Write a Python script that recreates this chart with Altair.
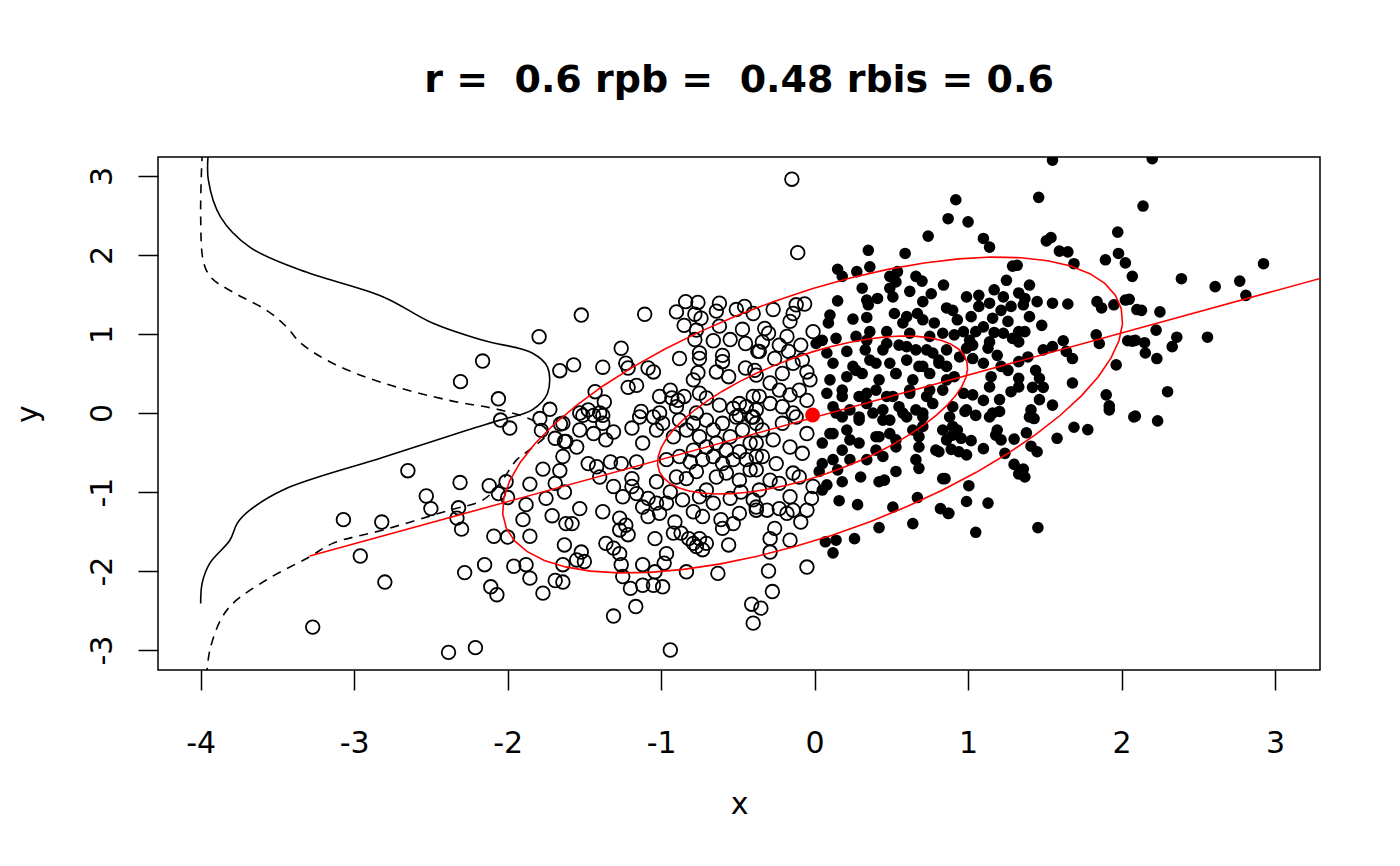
import altair as alt
import pandas as pd
import numpy as np

X_DOMAIN = [-4.278, 3.293]
Y_DOMAIN = [-3.253, 3.241]
X_TICKS = [-4, -3, -2, -1, 0, 1, 2, 3]
Y_TICKS = [-3, -2, -1, 0, 1, 2, 3]
TITLE = "r =\u00a0 0.6 rpb =\u00a0 0.48 rbis = 0.6"

# open circles (x below the cut)
open_pts = [
    (-1.795, 0.966), (-2.163, 0.658), (-1.66, 0.536), (-2.307, 0.397), (-2.06, 0.18),
    (-1.725, 0.047), (-2.046, -0.089), (-1.79, -0.07), (-1.656, -0.139), (-1.986, -0.19),
    (-1.78, -0.22), (-1.69, -0.32), (-1.63, -0.36), (-1.64, -0.55), (-1.77, -0.71),
    (-1.66, -0.73), (-1.69, -0.89), (-1.63, -1.0), (-1.855, -0.90), (-1.75, -1.08),
    (-1.88, -1.16), (-1.71, -1.30), (-1.90, -1.35), (-1.62, -1.40), (-1.855, -1.56),
    (-2.09, -1.56), (-2.00, -1.57), (-1.63, -1.67), (-1.64, -1.92), (-1.96, -1.94),
    (-1.88, -1.92), (-1.855, -2.09), (-1.69, -2.12), (-1.64, -2.14), (-1.77, -2.28),
    (-2.15, -1.92), (-2.28, -2.02), (-2.11, -2.20), (-2.07, -2.30), (-2.01, -0.87),
    (-2.12, -0.92), (-2.06, -1.02), (-2.00, -1.07), (-2.31, -0.88), (-2.65, -0.73),
    (-2.53, -1.05), (-2.50, -1.21), (-2.32, -1.20), (-2.33, -1.33), (-2.30, -1.47),
    (-3.07, -1.35), (-2.82, -1.38), (-2.96, -1.81), (-2.80, -2.14), (-3.27, -2.71),
    (-2.385, -3.03), (-2.21, -2.97),
    (-1.52, 1.24), (-1.107, 1.25), (-0.84, 1.41), (-0.76, 1.40), (-0.90, 1.28),
    (-0.78, 1.25), (-0.74, 1.20), (-0.85, 1.11), (-0.77, 1.05), (-0.62, 1.39),
    (-0.64, 1.29), (-0.51, 1.31), (-0.456, 1.35), (-0.40, 1.26), (-0.62, 1.10),
    (-0.47, 1.06), (-0.78, 0.93), (-0.66, 0.915), (-0.55, 0.93), (-0.45, 0.88),
    (-0.37, 0.78), (-1.26, 0.82), (-1.23, 0.63), (-1.215, 0.57), (-1.38, 0.58),
    (-1.57, 0.61), (-1.085, 0.57), (-1.05, 0.52), (-0.88, 0.69), (-0.75, 0.76),
    (-0.75, 0.69), (-0.60, 0.73), (-0.60, 0.65), (-0.76, 0.51), (-0.64, 0.52),
    (-0.56, 0.46), (-0.45, 0.57), (-0.38, 0.48), (-0.79, 0.42), (-1.215, 0.325),
    (-1.16, 0.35), (-1.43, 0.27), (-1.37, 0.14), (-1.475, 0.04), (-1.53, 0.0),
    (-1.44, -0.03), (-1.38, -0.03), (-1.13, 0.02), (-1.01, 0.21), (-0.94, 0.29),
    (-0.93, 0.19), (-0.89, 0.16), (-0.85, 0.21), (-0.90, 0.08), (-1.01, 0.0),
    (-0.75, 0.25), (-0.705, 0.19), (-0.62, 0.10), (-0.53, 0.06), (-0.49, 0.12),
    (-0.445, 0.08), (-0.40, 0.21), (-0.38, 0.04), (-0.77, 0.0), (-0.49, -0.03),
    (-0.41, -0.05),
    (-1.64, -0.13), (-1.51, -0.03), (-1.40, 0.0), (-1.38, -0.13), (-1.31, -0.24),
    (-1.53, -0.215), (-1.44, -0.26), (-1.62, -0.36), (-1.55, -0.43), (-1.36, -0.34),
    (-1.475, -0.64), (-1.42, -0.68), (-1.33, -0.62), (-1.26, -0.64), (-1.16, -0.62),
    (-1.40, -0.81), (-1.31, -0.93), (-1.19, -0.83), (-1.19, -0.93), (-1.25, -1.06),
    (-1.16, -1.02), (-1.085, -1.08), (-1.03, -1.14), (-1.12, -1.19), (-1.53, -1.21),
    (-1.38, -1.25), (-1.27, -1.33), (-1.23, -1.42), (-1.215, -1.54), (-1.27, -1.48),
    (-1.085, -1.31), (-1.01, -1.27), (-0.965, -1.14), (-0.94, -1.0), (-1.03, -0.87),
    (-1.58, -1.40), (-1.52, -1.76), (-1.50, -1.88), (-1.55, -1.86), (-1.36, -1.65),
    (-1.31, -1.71), (-1.27, -1.78), (-1.26, -1.92), (-1.25, -2.07), (-1.20, -2.22),
    (-1.12, -1.92), (-1.12, -2.18), (-1.05, -2.18), (-0.99, -2.20), (-1.04, -2.01),
    (-0.98, -1.90), (-0.965, -1.78), (-1.04, -1.59), (-0.92, -1.52), (-0.91, -1.38),
    (-0.87, -1.52), (-0.82, -1.59), (-0.79, -1.65), (-0.75, -1.59), (-0.705, -1.65),
    (-0.73, -1.73), (-0.77, -1.69), (-0.56, -1.67), (-0.835, -2.01), (-0.63, -2.03),
    (-1.165, -2.45), (-1.31, -2.57), (-0.94, -3.0), (-0.41, -2.42), (-0.40, -2.66),
    (-0.53, -1.40), (-0.60, -1.46), (-0.61, -1.35), (-0.49, -1.27), (-0.38, -1.23),
    (-0.73, -1.31), (-0.79, -1.25), (-0.86, -1.10), (-0.75, -1.06), (-0.66, -1.14),
    (-0.55, -1.08), (-0.48, -1.0), (-0.40, -1.10), (-0.90, -0.81), (-0.835, -0.83),
    (-0.77, -0.74), (-0.705, -0.975), (-0.64, -0.81), (-0.575, -0.76), (-0.49, -0.85),
    (-0.42, -0.72), (-0.965, -0.59), (-0.88, -0.55), (-0.81, -0.62), (-0.73, -0.59),
    (-0.66, -0.55), (-0.60, -0.64), (-0.53, -0.59), (-0.445, -0.59), (-0.38, -0.55),
    (-1.05, -0.05), (-0.99, -0.13), (-1.03, -0.215), (-1.12, -0.38), (-1.19, -0.19),
    (-1.14, -0.05), (-0.92, -0.30), (-0.88, -0.09), (-0.835, -0.215), (-0.79, -0.13),
    (-0.75, -0.30), (-0.705, -0.09), (-0.66, -0.215), (-0.64, -0.38), (-0.60, -0.13),
    (-0.55, -0.30), (-0.51, -0.05), (-0.47, -0.215), (-0.42, -0.38), (-0.38, -0.13),
    (-0.79, -0.47), (-0.705, -0.43), (-0.575, -0.47), (-0.49, -0.49),
    (-0.148, 2.96), (-0.11, 2.03), (-0.27, 1.31), (-0.12, 1.37), (-0.065, 1.38),
    (-0.14, 1.26), (-0.16, 1.16), (-0.01, 1.03), (-0.325, 1.07), (-0.30, 1.01),
    (-0.18, 0.97), (-0.34, 0.90), (-0.36, 0.78), (-0.23, 0.86), (-0.17, 0.78),
    (-0.09, 0.86), (-0.26, 0.69), (-0.14, 0.63), (-0.08, 0.67), (-0.39, 0.54),
    (-0.21, 0.50), (-0.05, 0.52), (-0.03, 0.42), (-0.29, 0.38), (-0.23, 0.29),
    (-0.16, 0.23), (-0.10, 0.29), (-0.05, 0.16), (-0.36, 0.21), (-0.29, 0.12),
    (-0.21, 0.08), (-0.14, 0.0),
    (-0.40, -0.05), (-0.34, -0.215), (-0.21, -0.13), (-0.12, -0.05), (-0.05, -0.26),
    (-0.38, -0.38), (-0.27, -0.34), (-0.16, -0.43), (-0.08, -0.51), (-0.34, -0.55),
    (-0.25, -0.64), (-0.14, -0.76), (-0.10, -0.81), (-0.38, -0.72), (-0.29, -0.85),
    (-0.23, -0.89), (-0.01, -0.93), (-0.36, -0.975), (-0.16, -1.06), (-0.02, -1.08),
    (-0.38, -1.19), (-0.31, -1.23), (-0.23, -1.21), (-0.14, -1.23), (-0.05, -1.23),
    (-0.18, -1.27), (-0.09, -1.38), (-0.26, -1.46), (-0.29, -1.59), (-0.16, -1.61),
    (-0.29, -1.76), (-0.30, -2.0), (-0.05, -1.95), (-0.275, -2.26), (-0.35, -2.47),
]

# filled dots (x above the cut)
filled_pts = [
    (0.87, 2.46), (0.74, 2.24), (0.35, 2.06), (0.59, 2.02), (0.15, 1.82),
    (0.18, 1.73), (0.275, 1.79), (0.36, 1.85), (0.54, 1.79), (0.49, 1.73),
    (0.53, 1.66), (0.66, 1.73), (0.70, 1.67), (0.84, 1.62), (0.31, 1.58),
    (0.49, 1.58), (0.51, 1.47), (0.62, 1.54), (0.76, 1.51), (0.705, 1.41),
    (0.15, 1.42), (0.34, 1.43), (0.41, 1.45), (0.35, 1.37), (0.10, 1.24),
    (0.09, 1.14), (0.25, 1.19), (0.34, 1.21), (0.52, 1.26), (0.60, 1.22),
    (0.67, 1.26), (0.705, 1.18), (0.86, 1.33), (0.78, 1.14), (0.36, 1.03),
    (0.47, 1.03), (0.575, 1.14), (0.62, 1.01), (0.05, 0.92), (0.14, 0.945),
    (0.27, 0.97), (0.75, 0.97), (0.835, 1.01), (0.01, 0.88),
    (0.08, 0.76), (0.21, 0.78), (0.33, 0.80), (0.445, 0.80), (0.55, 0.86),
    (0.66, 0.80), (0.77, 0.76), (0.86, 0.80), (0.12, 0.63), (0.25, 0.59),
    (0.36, 0.67), (0.49, 0.63), (0.60, 0.67), (0.705, 0.59), (0.81, 0.63),
    (0.10, 0.42), (0.21, 0.46), (0.31, 0.50), (0.42, 0.42), (0.53, 0.50),
    (0.64, 0.42), (0.75, 0.50), (0.86, 0.42), (0.08, 0.25), (0.18, 0.29),
    (0.29, 0.21), (0.40, 0.29), (0.51, 0.21), (0.62, 0.29), (0.73, 0.21),
    (0.835, 0.29), (0.12, 0.08), (0.23, 0.04), (0.34, 0.12), (0.445, 0.04),
    (0.55, 0.08), (0.66, 0.04), (0.77, 0.12),
    (0.34, 0.92), (0.47, 0.88), (0.60, 0.84), (0.73, 0.80), (0.27, 0.54),
    (0.40, 0.63), (0.53, 0.50), (0.68, 0.59), (0.81, 0.67), (0.18, 0.21),
    (0.34, 0.25), (0.47, 0.21), (0.62, 0.25), (0.75, 0.29), (0.14, 0.0),
    (0.29, -0.05), (0.445, -0.09), (0.575, 0.0), (0.705, -0.05), (0.10, -0.26),
    (0.23, -0.34), (0.40, -0.30), (0.53, -0.34), (0.68, -0.30), (0.835, -0.215),
    (0.18, -0.05), (0.29, -0.09), (0.38, 0.0), (0.49, -0.09), (0.60, -0.05),
    (0.705, 0.0), (0.12, -0.26), (0.21, -0.215), (0.29, -0.38), (0.42, -0.30),
    (0.49, -0.26), (0.64, -0.215), (0.705, -0.17), (0.05, -0.38), (0.18, -0.47),
    (0.40, -0.47), (0.53, -0.43), (0.68, -0.43), (0.79, -0.47), (0.86, -0.34),
    (0.05, -0.64), (0.12, -0.59), (0.23, -0.59), (0.34, -0.59), (0.445, -0.55),
    (0.66, -0.59), (0.68, -0.70), (0.03, -0.74), (0.15, -0.72), (0.30, -0.81),
    (0.42, -0.87), (0.455, -0.85), (0.53, -0.74), (0.835, -0.83), (0.08, -0.91),
    (0.18, -0.87), (0.05, -0.975), (0.16, -1.11), (0.28, -1.16), (0.51, -1.19),
    (0.67, -1.07), (0.82, -1.21), (0.87, -1.27), (0.64, -1.40), (0.42, -1.45),
    (0.26, -1.59), (0.07, -1.63), (0.14, -1.61), (0.12, -1.77),
    (1.55, 3.20), (0.92, 2.70), (1.46, 2.73), (1.0, 2.42), (1.10, 2.21),
    (1.14, 2.10), (1.51, 2.18), (1.54, 2.22), (1.975, 2.29), (1.595, 2.05),
    (1.65, 2.04), (1.69, 1.89), (1.895, 1.94), (1.98, 2.02), (2.025, 1.90),
    (2.07, 1.73), (1.29, 1.86), (1.32, 1.87), (1.25, 1.68), (1.40, 1.62),
    (0.99, 1.47), (1.07, 1.49), (1.17, 1.56), (1.23, 1.47), (1.33, 1.52),
    (1.37, 1.45), (1.14, 1.39), (1.45, 1.41), (1.55, 1.39), (1.65, 1.38),
    (1.84, 1.41), (1.87, 1.33), (1.95, 1.37), (2.025, 1.43), (2.10, 1.31),
    (0.90, 1.30), (0.93, 1.18), (1.02, 1.22), (1.07, 1.35), (1.215, 1.30),
    (1.28, 1.35), (1.36, 1.37), (1.40, 1.22), (1.16, 1.20), (1.26, 1.16),
    (1.48, 1.11), (1.10, 1.09), (1.05, 1.03), (1.17, 1.02), (1.23, 1.01),
    (1.33, 1.03), (1.37, 1.03), (0.91, 0.99), (1.01, 0.92), (1.14, 0.90),
    (1.29, 0.945), (1.33, 0.90), (1.835, 0.99), (1.855, 0.88), (2.04, 0.915),
    (2.09, 0.92), (0.99, 0.82), (1.13, 0.82), (1.62, 0.915), (1.55, 0.84),
    (1.49, 0.80), (1.64, 0.78), (1.68, 0.69), (0.945, 0.71), (1.03, 0.69),
    (1.19, 0.73), (1.33, 0.65), (1.39, 0.71), (1.10, 0.63), (1.215, 0.59),
    (1.26, 0.54), (1.965, 0.61), (0.86, 0.59), (0.91, 0.46), (1.15, 0.46),
    (1.33, 0.44), (1.44, 0.54), (1.465, 0.44), (1.68, 0.38), (1.14, 0.33),
    (1.33, 0.33), (1.42, 0.325), (1.49, 0.325), (0.97, 0.25), (1.03, 0.23),
    (1.10, 0.16), (1.28, 0.27), (1.205, 0.17), (1.465, 0.17), (1.90, 0.23),
    (1.55, 0.10), (1.92, 0.09), (0.90, 0.08), (0.99, 0.04), (1.16, 0.0),
    (1.41, 0.04), (0.97, 1.03), (1.03, 0.86),
    (0.88, -0.05), (0.98, 0.02), (1.05, -0.03), (1.14, -0.05), (1.205, 0.02),
    (1.40, -0.05), (1.43, -0.07), (1.92, 0.04), (2.08, -0.05), (0.90, -0.17),
    (0.93, -0.215), (0.90, -0.28), (0.955, -0.32), (1.02, -0.35), (1.19, -0.215),
    (1.18, -0.28), (1.215, -0.34), (1.30, -0.33), (1.38, -0.25), (1.58, -0.32),
    (1.69, -0.18), (1.78, -0.21), (0.81, -0.49), (0.89, -0.46), (0.94, -0.49),
    (0.99, -0.53), (1.10, -0.45), (1.24, -0.51), (1.41, -0.42), (1.45, -0.49),
    (1.30, -0.65), (1.36, -0.71), (1.33, -0.77), (1.37, -0.81), (0.85, -0.83),
    (1.005, -0.92), (0.99, -1.12), (1.13, -1.14), (0.875, -1.27), (1.05, -1.51),
    (1.455, -1.45),
    (2.20, 3.22), (2.14, 2.62), (2.39, 1.70), (2.61, 1.60), (2.77, 1.67),
    (2.925, 1.89), (2.81, 1.49), (2.05, 1.44), (2.13, 1.30), (2.25, 1.28),
    (2.225, 1.05), (2.07, 0.91), (2.15, 0.89), (2.36, 0.96), (2.33, 0.84),
    (2.56, 0.96), (2.155, 0.76), (2.23, 0.69), (2.30, 0.27), (2.09, -0.04),
    (2.235, -0.10),
]

# marginal density traces drawn from the x = -4 baseline
solid_density = [
    (-3.95, 3.30), (-3.95, 2.95), (-3.87, 2.48), (-3.68, 2.10), (-3.35, 1.81),
    (-2.81, 1.47), (-2.49, 1.14), (-2.16, 0.92), (-1.84, 0.76), (-1.74, 0.58),
    (-1.74, 0.25), (-1.84, 0.04), (-2.05, -0.09), (-2.27, -0.22), (-2.81, -0.56),
    (-3.46, -0.97), (-3.68, -1.23), (-3.76, -1.39), (-3.81, -1.61), (-3.94, -1.90),
    (-3.99, -2.15), (-4.0, -2.41),
]
dashed_density = [
    (-3.99, 3.30), (-4.0, 2.48), (-3.98, 1.90), (-3.93, 1.71), (-3.79, 1.53),
    (-3.57, 1.30), (-3.44, 1.09), (-3.35, 0.89), (-3.14, 0.63), (-2.81, 0.38),
    (-2.38, 0.16), (-2.05, 0.04), (-1.84, -0.09), (-1.74, -0.24), (-1.86, -0.47),
    (-1.94, -0.59), (-2.05, -0.89), (-2.16, -1.10), (-2.38, -1.23), (-2.81, -1.48),
    (-3.14, -1.65), (-3.29, -1.82), (-3.57, -2.11), (-3.79, -2.41), (-3.87, -2.62),
    (-3.94, -3.0), (-3.96, -3.30),
]

reg_line = [(-3.29, -1.81), (3.40, 1.76)]
center_pt = (-0.013, -0.025)

# ellipse parameters
ell_sd_x, ell_sd_y, ell_r = 1.01, 1.0, 0.6
ell_levels = [1.0, 2.0]
ell_segments = 51

FONT = "DejaVu Sans"

df_open = pd.DataFrame(open_pts, columns=["x", "y"])
df_filled = pd.DataFrame(filled_pts, columns=["x", "y"])
df_solid = pd.DataFrame(solid_density, columns=["x", "y"]).assign(i=lambda d: range(len(d)))
df_dashed = pd.DataFrame(dashed_density, columns=["x", "y"]).assign(i=lambda d: range(len(d)))
df_reg = pd.DataFrame(reg_line, columns=["x", "y"]).assign(i=lambda d: range(len(d)))
df_center = pd.DataFrame([center_pt], columns=["x", "y"])

ang = np.arange(ell_segments + 1) * 2 * np.pi / ell_segments
th = 1 / np.sqrt(2)
ux = th * (np.sqrt(1 + ell_r) * np.cos(ang) - np.sqrt(1 - ell_r) * np.sin(ang))
uy = th * (np.sqrt(1 + ell_r) * np.cos(ang) + np.sqrt(1 - ell_r) * np.sin(ang))
rows = []
for k, lv in enumerate(ell_levels):
    for j in range(len(ang)):
        rows.append({"x": center_pt[0] + lv * ell_sd_x * ux[j],
                     "y": center_pt[1] + lv * ell_sd_y * uy[j],
                     "g": k, "i": j})
df_ell = pd.DataFrame(rows)

xscale = alt.Scale(domain=X_DOMAIN, nice=False, zero=False)
yscale = alt.Scale(domain=Y_DOMAIN, nice=False, zero=False)

LABEL_EXPR = "'' + datum.value"

xaxis = alt.Axis(values=X_TICKS, title="x", grid=False, domain=False,
                 tickSize=20, tickWidth=1.5, tickColor="black",
                 labelFont=FONT, labelFontSize=30, labelColor="black",
                 labelPadding=38, labelFlush=False, labelBaseline="top",
                 labelExpr=LABEL_EXPR,
                 titleFont=FONT, titleFontSize=30, titleFontWeight="normal",
                 titleColor="black", titleY=143, titleBaseline="alphabetic")
yaxis = alt.Axis(values=Y_TICKS, title="y", grid=False, domain=False,
                 tickSize=20, tickWidth=1.5, tickColor="black",
                 labelFont=FONT, labelFontSize=30, labelColor="black",
                 labelAngle=270, labelAlign="center", labelBaseline="alphabetic",
                 labelPadding=27, labelFlush=False, labelExpr=LABEL_EXPR,
                 titleFont=FONT, titleFontSize=30, titleFontWeight="normal",
                 titleColor="black", titleAngle=270, titleX=-121, titleY=256.5,
                 titleAlign="center", titleBaseline="alphabetic")


def xy():
    return dict(x=alt.X("x:Q", scale=xscale, axis=xaxis),
                y=alt.Y("y:Q", scale=yscale, axis=yaxis))


open_layer = alt.Chart(df_open).mark_point(
    shape="circle", filled=False, stroke="black", strokeWidth=1.8, size=185,
    opacity=1, clip=True).encode(**xy())
filled_layer = alt.Chart(df_filled).mark_point(
    shape="circle", filled=True, fill="black", size=135, opacity=1,
    clip=True).encode(**xy())
solid_layer = alt.Chart(df_solid).mark_line(
    color="black", strokeWidth=1.6, clip=True, interpolate="catmull-rom").encode(order="i:Q", **xy())
dashed_layer = alt.Chart(df_dashed).mark_line(
    color="black", strokeWidth=1.6, strokeDash=[9, 7], clip=True,
    interpolate="catmull-rom").encode(order="i:Q", **xy())
ell_layer = alt.Chart(df_ell).mark_line(
    color="red", strokeWidth=1.6, clip=True).encode(
    order="i:Q", detail="g:N", **xy())
reg_layer = alt.Chart(df_reg).mark_line(
    color="red", strokeWidth=1.6, clip=True).encode(order="i:Q", **xy())
center_layer = alt.Chart(df_center).mark_point(
    shape="circle", filled=True, fill="red", size=220, opacity=1).encode(**xy())

chart = alt.layer(
    open_layer, filled_layer, solid_layer, dashed_layer, ell_layer, reg_layer, center_layer
).properties(
    width=1162, height=513,
    background="white",
    autosize=alt.AutoSizeParams(type="none"),
    padding={"left": 150, "top": 149, "right": 60, "bottom": 180},
    title=alt.TitleParams(TITLE, font=FONT, fontSize=38, fontWeight="bold",
                          color="black", anchor="middle", offset=27,
                          baseline="alphabetic"),
).configure_view(
    stroke="black", strokeWidth=1.5
)

chart.save("out.html", embed_options={"renderer": "svg", "actions": False})
